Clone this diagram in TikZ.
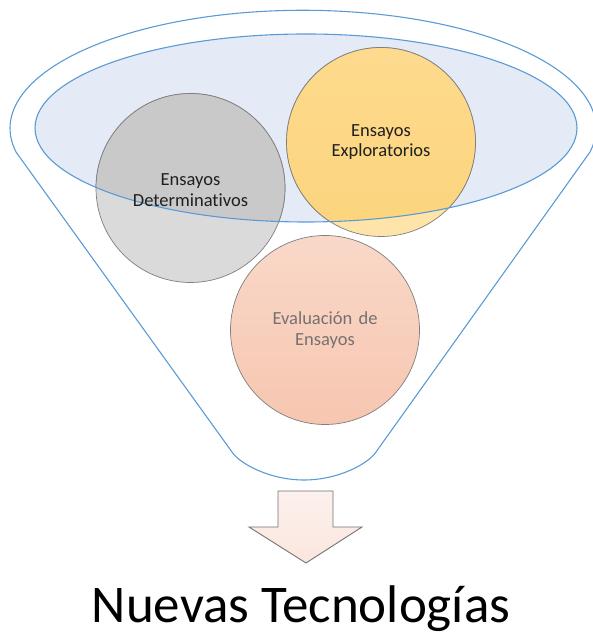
\documentclass[tikz,border=0pt]{standalone}
\usepackage{fontspec}
\setmainfont{Carlito}[Ligatures=NoCommon]
\usetikzlibrary{shapes.geometric}
\definecolor{funnelblue}{HTML}{5B9BD5}
\definecolor{ellfill}{HTML}{E4EBF6}
\definecolor{txtgrey}{HTML}{767171}
\definecolor{circline}{HTML}{7F7F7F}
\definecolor{greyout}{HTML}{DADADA}
\definecolor{greyin}{HTML}{C9C9C9}
\definecolor{yelout}{HTML}{FEE4A8}
\definecolor{yelintop}{HTML}{FDDA8E}
\definecolor{yelinbot}{HTML}{FCD47C}
\begin{document}
\begin{tikzpicture}[x=1pt,y=1pt,
  funnel/.style={draw=funnelblue,line width=1.1pt,line join=round},
  ball/.style={circle,draw=circline,line width=0.7pt,minimum size=189pt,inner sep=0pt},
  lbl/.style={align=center,font=\fontsize{18.5}{20.5}\selectfont,text width=160pt}]
\useasboundingbox (0,0) rectangle (593,636);
% funnel outline
\draw[funnel] (16,484) -- (232,184)
  .. controls (240,172) and (270,156) .. (304,156)
  .. controls (338,156) and (368,172) .. (376,184)
  -- (590,484) arc[start angle=-11.6, end angle=191.6, x radius=293pt, y radius=118pt];
% inner ellipse fill
\node[ellipse,minimum width=542pt,minimum height=188pt,fill=ellfill,inner sep=0pt] (ell) at (306,508) {};
% circles
\node[ball,fill=greyout] (det) at (190.5,448) {};
\node[ball,fill=yelout] (exp) at (381,494) {};
\node[ball,top color={rgb,255:red,249;green,216;blue,201},bottom color={rgb,255:red,247;green,198;blue,176}] (eva) at (325,306) {};
% parts of the circles inside the ellipse are darker
\begin{scope}
  \clip (306,508) ellipse[x radius=271pt, y radius=94pt];
  \fill[greyin] (det.center) circle[radius=94.5pt];
  \draw[circline,line width=0.7pt] (det.center) circle[radius=94.5pt];
  \shade[top color=yelintop,bottom color=yelinbot] (exp.center) circle[radius=94.5pt];
  \draw[circline,line width=0.7pt] (exp.center) circle[radius=94.5pt];
\end{scope}
% inner ellipse outline
\draw[funnelblue,line width=1.1pt] (ell.center) ellipse[x radius=271pt, y radius=94pt];
% labels
\node[lbl,text=black!88] (tdet) at ([yshift=-2pt]det.center) {Ensayos\\Determinativos};
\node[lbl,text=black!88] (texp) at (exp) {Ensayos\\Exploratorios};
\node[lbl,text=txtgrey] (teva) at (eva) {Evaluación de\\Ensayos};
% arrow
\draw[draw=black!55,line width=0.9pt,line join=miter,top color={rgb,255:red,252;green,241;blue,237},bottom color={rgb,255:red,250;green,230;blue,222}]
  (278,145) coordinate (a1) -- (333,145) -- (333,109) -- (362,109) -- (306,73) coordinate (tip) -- (249,109) -- (278,109) -- cycle;
% title
\node[anchor=base,font=\fontsize{53}{60}\selectfont,inner sep=0pt] (title) at (301,13) {Nuevas Tecnologías};
\end{tikzpicture}
\end{document}
